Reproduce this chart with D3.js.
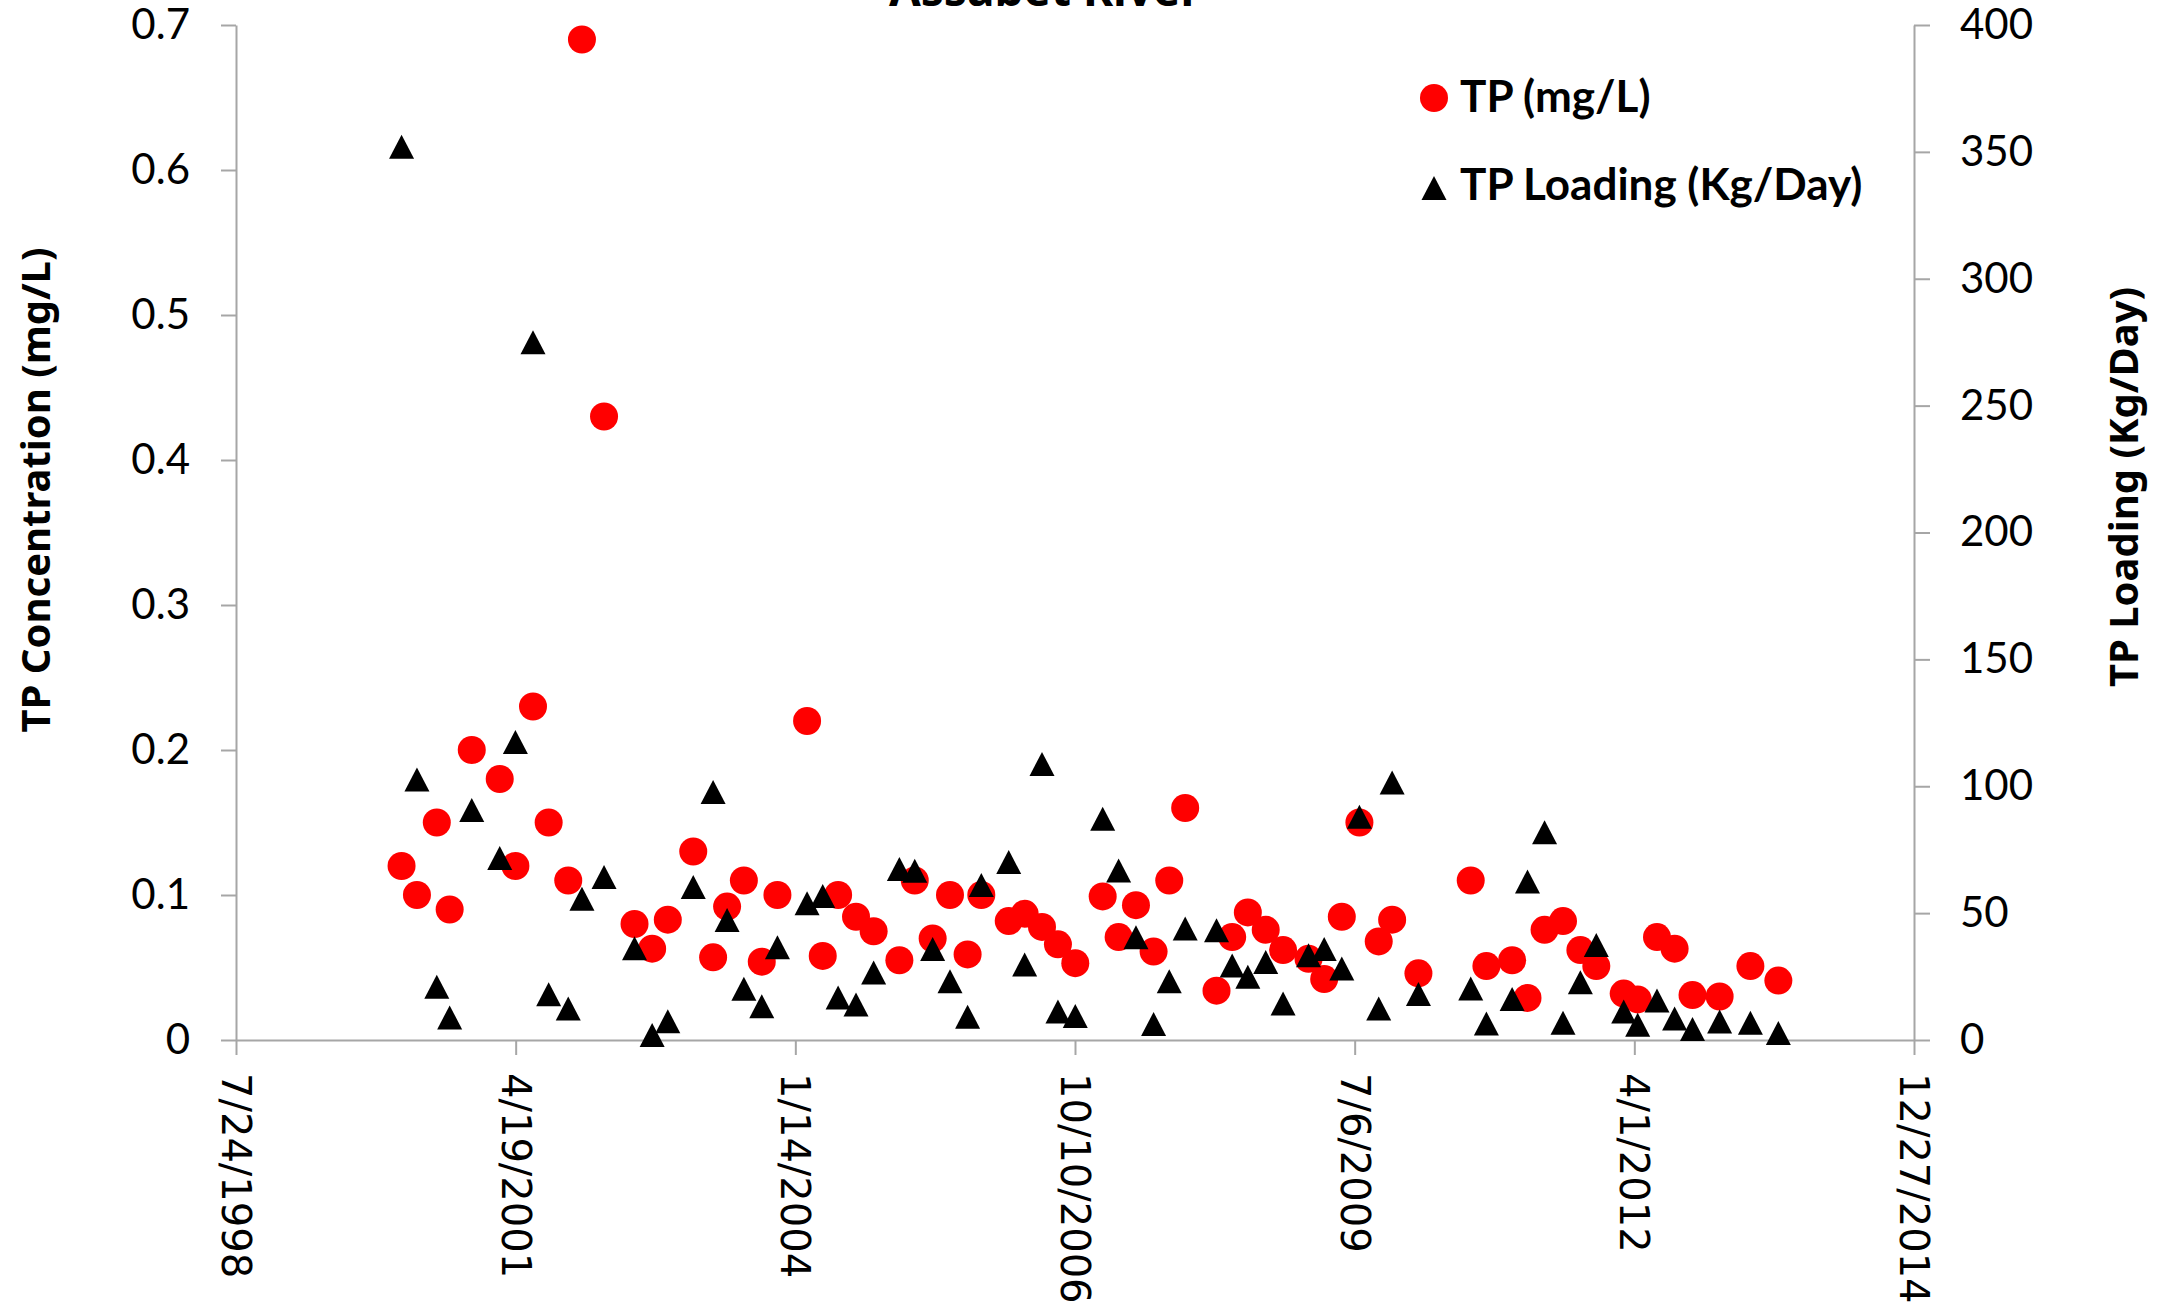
<!DOCTYPE html>
<html>
<head>
<meta charset="utf-8">
<script src="https://cdn.jsdelivr.net/npm/d3@7"></script>
<style>
  body { margin: 0; background: #fff; }
  .axis path, .axis line { stroke: #a6a6a6; stroke-width: 2; }
  .num text { font-family: Lato, sans-serif; font-size: 42px; fill: #000; }
  .dates text { font-family: "DejaVu Sans", sans-serif; font-size: 40px; fill: #000; }
  .title { font-family: "Noto Sans", sans-serif; font-weight: bold; fill: #000; }
  .legend text { font-family: Lato, sans-serif; font-weight: bold; font-size: 44px; fill: #000; }
</style>
</head>
<body>
<div id="chart"></div>
<script>
// Sample dates (one circle + one triangle per date)
const sampleDates = [
  "2000-03-07","2000-05-01","2000-07-11","2000-08-26","2000-11-13","2001-02-21","2001-04-18","2001-06-20",
  "2001-08-15","2001-10-24","2001-12-12","2002-03-01","2002-06-18","2002-08-20","2002-10-15","2003-01-14",
  "2003-03-26","2003-05-15","2003-07-14","2003-09-16","2003-11-11","2004-02-25","2004-04-21","2004-06-15",
  "2004-08-18","2004-10-20","2005-01-20","2005-03-16","2005-05-19","2005-07-20","2005-09-21","2005-11-09",
  "2006-02-15","2006-04-13","2006-06-14","2006-08-10","2006-10-11","2007-01-17","2007-03-15","2007-05-16",
  "2007-07-18","2007-09-12","2007-11-08","2008-02-28","2008-04-24","2008-06-19","2008-08-22","2008-10-23",
  "2009-01-22","2009-03-19","2009-05-21","2009-07-23","2009-09-30","2009-11-17","2010-02-19","2010-08-25",
  "2010-10-20","2011-01-20","2011-03-16","2011-05-16","2011-07-21","2011-09-21","2011-11-17","2012-02-23",
  "2012-04-13","2012-06-21","2012-08-23","2012-10-26","2013-01-31","2013-05-21","2013-08-29"
];

// TP concentration (mg/L)
const tpConc = [
  0.120,0.100,0.150,0.090,0.200,0.180,0.120,0.230,0.150,0.110,0.690,0.430,0.080,0.063,0.083,0.130,
  0.057,0.092,0.110,0.054,0.100,0.220,0.058,0.100,0.085,0.075,0.055,0.110,0.070,0.100,0.059,0.100,
  0.082,0.087,0.078,0.066,0.053,0.099,0.071,0.093,0.061,0.110,0.160,0.034,0.071,0.088,0.076,0.062,
  0.056,0.042,0.085,0.150,0.068,0.083,0.046,0.110,0.051,0.055,0.029,0.076,0.082,0.062,0.051,0.032,
  0.028,0.071,0.063,0.031,0.030,0.051,0.041
];

// TP loading (Kg/Day)
const tpLoading = [
  352,102.7,21.0,8.9,90.6,71.7,117.4,275,18.0,12.4,55.7,64.2,36.2,2.0,7.4,60.3,
  97.7,47.3,20.2,13.3,36.6,53.9,56.7,16.7,14.0,26.6,67.4,66.7,35.9,23.2,9.2,61.1,
  70.1,29.8,108.8,11.2,9.5,87.2,66.8,40.5,6.3,23.2,43.9,43.3,29.4,24.9,30.7,14.4,
  33.4,35.9,28.2,88.0,12.4,101.5,18.1,20.3,6.5,16.2,62.5,81.9,6.8,22.8,37.4,11.2,
  6.0,15.6,8.5,4.3,7.3,6.8,2.8
];

// Axis ticks
const xTickDates = ["1998-07-24","2001-04-19","2004-01-14","2006-10-10","2009-07-06","2012-04-01","2014-12-27"];
const leftTicks = [0, 0.1, 0.2, 0.3, 0.4, 0.5, 0.6, 0.7];
const rightTicks = [0, 50, 100, 150, 200, 250, 300, 350, 400];

const width = 2178, height = 1305;
const plot = { left: 236, right: 1914, top: 25, bottom: 1040 };

const parse = d3.timeParse("%Y-%m-%d");
const fmt = d3.timeFormat("%-m/%-d/%Y");
const dates = sampleDates.map(parse);
const tickDates = xTickDates.map(parse);

const x = d3.scaleTime()
    .domain([tickDates[0], tickDates[tickDates.length - 1]])
    .range([plot.left, plot.right]);
const yL = d3.scaleLinear().domain([0, 0.7]).range([plot.bottom, plot.top]);
const yR = d3.scaleLinear().domain([0, 400]).range([plot.bottom, plot.top]);

const svg = d3.select("#chart").append("svg")
    .attr("width", width)
    .attr("height", height);

// Axes
svg.append("g")
    .attr("class", "axis num")
    .attr("transform", `translate(${plot.left},0)`)
    .call(d3.axisLeft(yL).tickValues(leftTicks).tickSize(15).tickSizeOuter(0).tickPadding(31)
        .tickFormat(d => d === 0 ? "0" : d3.format(".1f")(d)));

svg.append("g")
    .attr("class", "axis num")
    .attr("transform", `translate(${plot.right},0)`)
    .call(d3.axisRight(yR).tickValues(rightTicks).tickSize(16).tickSizeOuter(0).tickPadding(30));

const xAxis = svg.append("g")
    .attr("class", "axis dates")
    .attr("transform", `translate(0,${plot.bottom})`)
    .call(d3.axisBottom(x).tickValues(tickDates).tickSize(15).tickSizeOuter(0).tickFormat(fmt));

xAxis.selectAll("text")
    .attr("transform", "rotate(90)")
    .attr("text-anchor", "start")
    .attr("x", 33)
    .attr("y", 0)
    .attr("dy", "0.36em");

svg.selectAll(".axis .domain").attr("fill", "none");

// TP concentration circles
svg.append("g").selectAll("circle")
    .data(dates)
    .join("circle")
    .attr("cx", d => x(d))
    .attr("cy", (d, i) => yL(tpConc[i]))
    .attr("r", 14)
    .attr("fill", "#ff0000");

// TP loading triangles
const tri = "M0,-12L12.5,12L-12.5,12Z";
svg.append("g").selectAll("path")
    .data(dates)
    .join("path")
    .attr("d", tri)
    .attr("transform", (d, i) => `translate(${x(d)},${yR(tpLoading[i])})`)
    .attr("fill", "#000");

// Titles
svg.append("text")
    .attr("class", "title")
    .attr("x", 1045).attr("y", 6)
    .attr("text-anchor", "middle")
    .attr("font-size", 46)
    .text("Assabet River");

svg.append("text")
    .attr("class", "title")
    .attr("text-anchor", "middle")
    .attr("font-size", 40)
    .attr("transform", "translate(50,490) rotate(-90)")
    .text("TP Concentration (mg/L)");

svg.append("text")
    .attr("class", "title")
    .attr("text-anchor", "middle")
    .attr("font-size", 40)
    .attr("transform", "translate(2138,487) rotate(-90)")
    .text("TP Loading (Kg/Day)");

// Legend
const legend = svg.append("g").attr("class", "legend");
legend.append("circle").attr("cx", 1434).attr("cy", 98).attr("r", 14).attr("fill", "#ff0000");
legend.append("text").attr("x", 1460).attr("y", 112).text("TP (mg/L)");
legend.append("path").attr("d", tri).attr("transform", "translate(1434,188)").attr("fill", "#000");
legend.append("text").attr("x", 1460).attr("y", 200).text("TP Loading (Kg/Day)");
</script>
</body>
</html>
